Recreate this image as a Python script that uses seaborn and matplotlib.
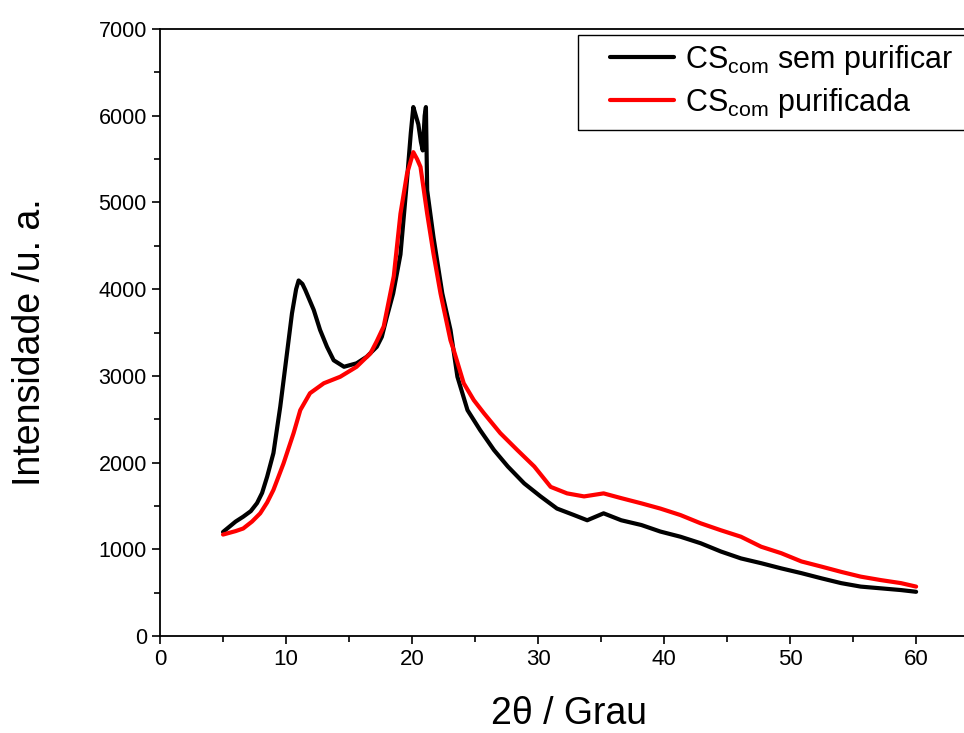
import matplotlib
matplotlib.use("Agg")
import matplotlib.pyplot as plt
import seaborn as sns
import pandas as pd
from matplotlib.ticker import MultipleLocator
from matplotlib.patches import Rectangle

# ---- data ----
x_black = [5.0, 5.5, 6.0, 6.6, 7.2, 7.7, 8.1, 8.5, 9.0, 9.54, 9.94, 10.47, 10.8, 11.0, 11.3,
           11.53, 12.2, 12.7, 13.25, 13.78, 14.6, 15.6, 16.4, 17.2, 17.6, 18.0, 18.5, 19.08,
           19.6, 19.9, 20.1, 20.3, 20.5, 20.7, 20.85, 21.0, 21.1, 21.2, 21.7, 22.4, 23.05,
           23.6, 24.4, 25.4, 26.5, 27.6, 28.9, 30.2, 31.5, 32.85, 33.9, 35.2, 36.6, 38.2,
           39.7, 41.3, 42.9, 44.5, 46.1, 47.7, 49.3, 50.9, 52.5, 54.05, 55.6, 57.2, 58.8, 60.0]
y_black = [1200, 1260, 1320, 1376, 1440, 1533, 1650, 1837, 2110, 2644, 3105, 3720, 4000, 4100, 4060,
           3990, 3760, 3530, 3335, 3180, 3105, 3145, 3220, 3335, 3450, 3680, 3950, 4400,
           5260, 5800, 6100, 6000, 5900, 5700, 5600, 6000, 6100, 5140, 4600, 3950, 3530,
           2990, 2605, 2375, 2145, 1955, 1760, 1610, 1470, 1395, 1335, 1415, 1335, 1280,
           1205, 1145, 1070, 975, 895, 840, 780, 725, 665, 610, 570, 550, 530, 510]

x_red = [5.0, 5.5, 6.0, 6.6, 7.3, 7.95, 8.5, 9.0, 9.8, 10.6, 11.13, 11.9, 13.0, 14.3, 15.6,
         16.7, 17.2, 17.75, 18.55, 19.08, 19.6, 20.1, 20.4, 20.67, 21.2, 21.7, 22.26, 23.05,
         23.3, 24.1, 24.9, 25.7, 27.0, 28.35, 29.7, 31.0, 32.3, 33.65, 35.2, 36.6, 38.2,
         39.7, 41.3, 42.9, 44.5, 46.1, 47.7, 49.3, 50.9, 52.5, 54.05, 55.6, 57.2, 58.8, 60.0]
y_red = [1170, 1190, 1210, 1240, 1320, 1415, 1540, 1685, 1990, 2340, 2605, 2800, 2915, 2990, 3105,
         3260, 3400, 3570, 4150, 4870, 5330, 5580, 5500, 5410, 4870, 4410, 3950, 3410,
         3300, 2915, 2720, 2570, 2340, 2145, 1955, 1720, 1645, 1610, 1645, 1590, 1530,
         1470, 1395, 1300, 1220, 1145, 1030, 955, 860, 800, 740, 685, 645, 610, 570]

labels = [r"CS$_{\mathrm{com}}$ sem purificar", r"CS$_{\mathrm{com}}$ purificada"]
colors = ["#000000", "#ff0000"]
x_ticks = [0, 10, 20, 30, 40, 50, 60]
y_ticks = [0, 1000, 2000, 3000, 4000, 5000, 6000, 7000]

sns.set_theme(style="ticks")
plt.rcParams["font.family"] = ["Liberation Sans", "DejaVu Sans"]
plt.rcParams["mathtext.fontset"] = "custom"
plt.rcParams["mathtext.rm"] = "Liberation Sans"
plt.rcParams["mathtext.it"] = "Liberation Sans"
plt.rcParams["text.color"] = "black"
plt.rcParams["axes.labelcolor"] = "black"
plt.rcParams["xtick.color"] = "black"
plt.rcParams["ytick.color"] = "black"

W, H = 964, 733
fig = plt.figure(figsize=(W / 100, H / 100), dpi=100)
ax = fig.add_axes([0.166, 0.1323, 0.834, 0.8281])

df_b = pd.DataFrame({"x": x_black, "y": y_black})
df_r = pd.DataFrame({"x": x_red, "y": y_red})
sns.lineplot(data=df_b, x="x", y="y", ax=ax, color=colors[0], lw=3.0,
             sort=False, estimator=None, label=labels[0])
sns.lineplot(data=df_r, x="x", y="y", ax=ax, color=colors[1], lw=3.0,
             sort=False, estimator=None, label=labels[1])

ax.set_xlim(0, 63.8)
ax.set_ylim(0, 7000)
ax.set_xticks(x_ticks)
ax.set_yticks(y_ticks)
ax.xaxis.set_minor_locator(MultipleLocator(5))
ax.yaxis.set_minor_locator(MultipleLocator(500))
ax.tick_params(which="major", direction="out", length=6, width=1.2, colors="black")
ax.tick_params(which="minor", direction="out", length=4, width=1.2, colors="black")
ax.tick_params(axis="y", labelsize=15.5, labelcolor="black")
ax.tick_params(axis="x", labelsize=16, labelcolor="black")

for s in ["left", "bottom", "top"]:
    ax.spines[s].set_visible(True)
    ax.spines[s].set_linewidth(1.3)
    ax.spines[s].set_color("black")
ax.spines["right"].set_visible(False)

ax.set_xlabel("2θ / Grau", fontsize=27, color="black")
ax.xaxis.set_label_coords(0.509, -0.098)
ax.set_ylabel("Intensidade /u. a.", fontsize=27, color="black")
ax.yaxis.set_label_coords(-0.162, 0.484)
ax.yaxis.label.set_va("center")

leg = ax.legend(loc="upper left", bbox_to_anchor=(610 / W, 1 - 43 / H),
                bbox_transform=fig.transFigure,
                frameon=False, handlelength=2.1, handletextpad=0.36,
                borderpad=0.0, labelspacing=0.3, borderaxespad=0.0,
                prop={"size": 22})
for t in leg.get_texts():
    t.set_color("black")

fig.add_artist(Rectangle((578 / W, 1 - 130 / H), (W - 578 + 5) / W, 95 / H,
                         transform=fig.transFigure, facecolor="none",
                         edgecolor="black", lw=1.0, zorder=1))

fig.savefig("out.png", dpi=100)
